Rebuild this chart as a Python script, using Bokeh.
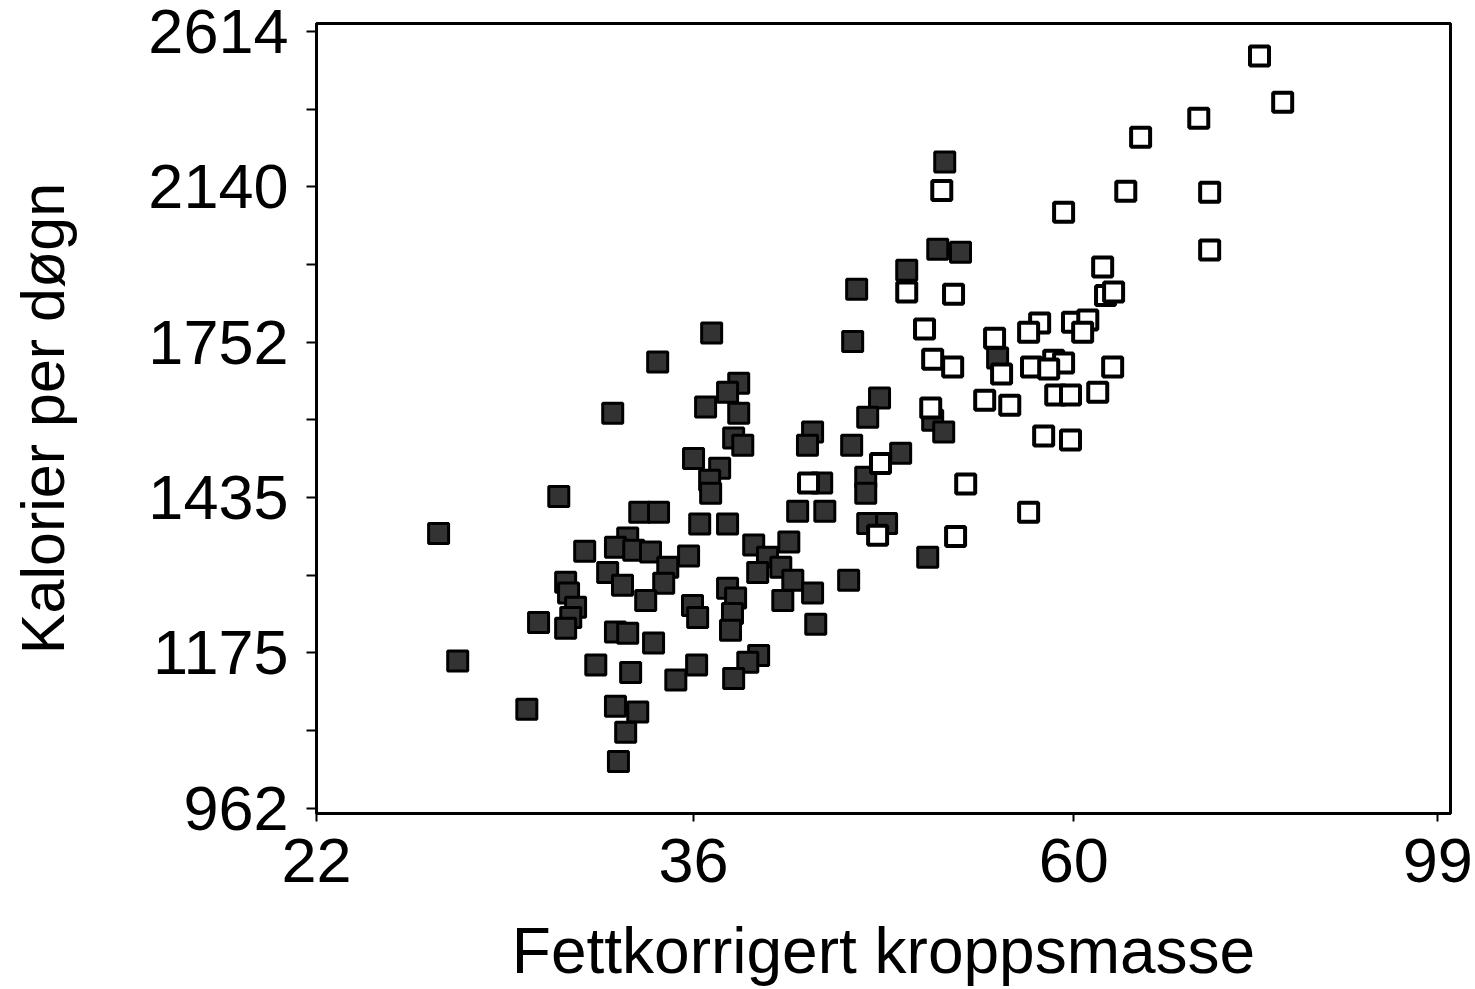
from bokeh.plotting import figure
from bokeh.models import FixedTicker, Range1d
from bokeh.embed import file_html
from bokeh.resources import INLINE

# Filled squares
x_filled = [34.9, 38.86, 38.29, 37.19, 38.86, 38.60, 39.07, 42.86, 42.57, 45.14,
            32.88, 36.60, 37.89, 37.39, 37.44, 43.38, 42.02, 43.56, 30.61, 26.10,
            34.08, 34.94, 36.90, 38.29, 31.68, 33.54, 33.00, 33.81, 34.57, 36.36,
            35.37, 35.18, 32.66, 33.31, 34.35, 39.64, 41.53, 40.37, 39.85, 41.09,
            41.75, 42.86, 41.20, 44.96, 30.89, 31.01, 31.30, 31.10, 30.89, 29.80,
            33.00, 33.54, 34.71, 36.55, 36.80, 38.29, 38.70, 38.54, 38.44, 43.04,
            26.77, 32.15, 33.67, 36.75, 35.75, 39.90, 39.33, 38.60, 29.34, 33.00,
            33.99, 33.45, 33.13, 51.07, 50.60, 52.15, 48.56, 45.44, 45.20, 54.78,
            46.84, 46.11, 50.26, 51.00, 48.17, 45.99, 45.99, 46.11, 47.28, 49.93,
            37.49]
y_filled = [1708, 1662, 1643, 1612, 1599, 1549, 1535, 1561, 1535, 1535,
            1599, 1509, 1490, 1467, 1443, 1462, 1410, 1410, 1437, 1370,
            1408, 1408, 1387, 1387, 1339, 1362, 1346, 1341, 1338, 1331,
            1312, 1285, 1303, 1282, 1257, 1350, 1355, 1329, 1303, 1312,
            1290, 1269, 1257, 1290, 1287, 1269, 1246, 1230, 1213, 1222,
            1207, 1205, 1190, 1249, 1230, 1277, 1261, 1236, 1210, 1219,
            1163, 1157, 1146, 1157, 1135, 1171, 1161, 1137, 1093, 1097,
            1089, 1061, 1022, 2209, 1975, 1967, 1922, 1876, 1754, 1717,
            1631, 1591, 1585, 1561, 1519, 1473, 1443, 1388, 1388, 1329,
            1773]

# Open squares
x_open = [50.87, 59.79, 64.93, 66.22, 48.56, 51.67, 62.97, 63.21, 63.89, 49.72,
          54.56, 55.07, 57.92, 57.08, 60.50, 61.74, 61.32, 50.26, 51.61, 57.30,
          59.01, 59.79, 58.62, 63.81, 50.13, 53.85, 55.67, 59.17, 60.34, 62.56,
          58.23, 60.34, 52.51, 42.63, 46.90, 46.72, 51.81, 57.08, 77.53, 79.95,
          71.53, 72.57, 72.57]
y_open = [2130, 2071, 2128, 2281, 1869, 1864, 1930, 1861, 1869, 1782,
          1761, 1682, 1796, 1775, 1798, 1803, 1775, 1714, 1697, 1697,
          1712, 1706, 1693, 1697, 1610, 1626, 1616, 1637, 1637, 1643,
          1553, 1545, 1460, 1462, 1499, 1367, 1365, 1408, 2532, 2386,
          2337, 2125, 1973]

x_ticks = [22.2, 36.6, 60.6, 98.2]
x_tick_labels = ["22", "36", "60", "99"]
y_ticks = [962, 1175, 1435, 1752, 2140, 2614]
y_minor_ticks = [1063, 1298, 1586, 1936, 2365]

x_title = "Fettkorrigert kroppsmasse"
y_title = "Kalorier per døgn"

FONT = "Liberation Sans"

p = figure(frame_width=1134, frame_height=790,
           x_axis_type="log", y_axis_type="log",
           x_range=Range1d(22.198, 99.88), y_range=Range1d(955.8, 2640.0),
           output_backend="svg", toolbar_location=None,
           min_border_left=316, min_border_top=23, min_border_right=25,
           min_border_bottom=176)

p.background_fill_color = "white"
p.border_fill_color = "white"
p.outline_line_color = "black"
p.outline_line_width = 3
p.xgrid.visible = False
p.ygrid.visible = False

p.xaxis.ticker = FixedTicker(ticks=x_ticks, minor_ticks=[])
p.xaxis.major_label_overrides = {t: l for t, l in zip(x_ticks, x_tick_labels)}
p.yaxis.ticker = FixedTicker(ticks=y_ticks, minor_ticks=y_minor_ticks)
p.yaxis.major_label_overrides = {t: str(t) for t in y_ticks}

for ax in (p.xaxis, p.yaxis):
    ax.axis_line_color = "black"
    ax.axis_line_width = 3
    ax.major_tick_line_color = "black"
    ax.major_tick_line_width = 2
    ax.major_tick_in = 0
    ax.minor_tick_line_color = "black"
    ax.minor_tick_line_width = 2
    ax.minor_tick_in = 0
    ax.major_label_text_font = FONT
    ax.major_label_text_font_size = "63px"
    ax.major_label_text_color = "black"
    ax.axis_label_text_font = FONT
    ax.axis_label_text_font_style = "normal"
    ax.axis_label_text_color = "black"

p.xaxis.major_tick_out = 8
p.xaxis.minor_tick_out = 0
p.xaxis.major_label_standoff = 17
p.xaxis.axis_label = x_title
p.xaxis.axis_label_text_font_size = "64px"
p.xaxis.axis_label_standoff = 30

p.yaxis.major_tick_out = 10
p.yaxis.minor_tick_out = 10
p.yaxis.major_label_standoff = 18
p.yaxis.axis_label = y_title
p.yaxis.axis_label_text_font_size = "61px"
p.yaxis.axis_label_standoff = 68

p.scatter(x_filled, y_filled, marker="square", size=20,
          fill_color="#333333", line_color="black", line_width=3)
p.scatter(x_open, y_open, marker="square", size=19,
          fill_color="white", line_color="black", line_width=4)

open("out.html", "w").write(file_html(p, INLINE))
